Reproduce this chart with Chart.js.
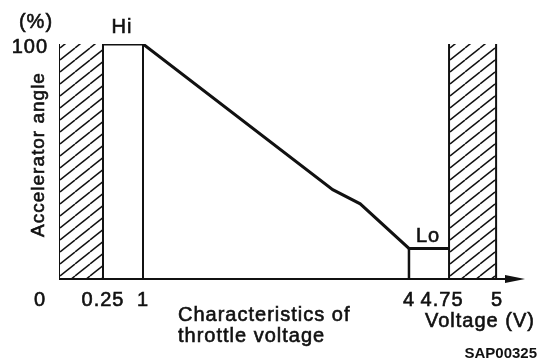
<!DOCTYPE html>
<html>
<head>
<meta charset="utf-8">
<script src="https://cdn.jsdelivr.net/npm/chart.js@4/dist/chart.umd.min.js"></script>
<style>
  html, body { margin: 0; padding: 0; background: #fff; }
  #wrap { width: 546px; height: 361px; }
</style>
</head>
<body>
<div id="wrap"><canvas id="chart" width="546" height="361"></canvas></div>
<script>
// throttle sensor curve: accelerator angle (%) against voltage (V)
const voltage = [0.25, 1, 3.14, 3.45, 4, 4.75];
const angle = [100, 100, 38, 32, 13, 13];

const xTicks = [0, 0.25, 1, 4, 4.75, 5];
const xTickLabels = ["0", "0.25", "1", "4", "4.75", "5"];
const yTicks = [100];

// out-of-range voltage bands (hatched)
const deadBands = [[0, 0.25], [4.75, 5]];
const hiLevel = 100;
const loLevel = 13;

// the voltage axis is drawn schematically, not to scale:
// each break value sits at a fixed fraction of the axis length
const axisVolts = [0, 0.25, 1, 4, 4.75, 5, 5.35];
const axisFrac = [0, 0.0944, 0.1803, 0.751, 0.837, 0.938, 1];

function interp(v, xs, ys) {
    if (v <= xs[0]) return ys[0];
    for (let i = 1; i < xs.length; i++) {
        if (v <= xs[i]) {
            const t = (v - xs[i - 1]) / (xs[i] - xs[i - 1]);
            return ys[i - 1] + t * (ys[i] - ys[i - 1]);
        }
    }
    return ys[ys.length - 1];
}

class SchematicScale extends Chart.LinearScale {
    getPixelForValue(value) {
        return this.getPixelForDecimal(interp(value, axisVolts, axisFrac));
    }
    getValueForPixel(pixel) {
        return interp(this.getDecimalForPixel(pixel), axisFrac, axisVolts);
    }
}
SchematicScale.id = "schematic";
SchematicScale.defaults = Chart.LinearScale.defaults;
Chart.register(SchematicScale);

const INK = "#111";
const FONT = "'Liberation Sans', Arial, sans-serif";

const ctx = document.getElementById("chart").getContext("2d");

function hatchPattern() {
    const tile = document.createElement("canvas");
    tile.width = 15;
    tile.height = 12;
    const g = tile.getContext("2d");
    g.strokeStyle = INK;
    g.lineWidth = 1.5;
    [-12, 0, 12].forEach(o => {
        g.beginPath();
        g.moveTo(0, 12 + o);
        g.lineTo(15, o);
        g.stroke();
    });
    return ctx.createPattern(tile, "repeat");
}
const hatch = hatchPattern();

function line(points, width) {
    return {
        data: points,
        borderColor: INK,
        borderWidth: width,
        pointRadius: 0,
        fill: false,
        tension: 0
    };
}

const datasets = [];

// hatched bands, outlined on both sides but open at the top
deadBands.forEach(([a, b]) => {
    datasets.push({
        data: [{ x: a, y: 0 }, { x: a, y: hiLevel }, { x: b, y: hiLevel }, { x: b, y: 0 }],
        borderColor: INK,
        borderWidth: 2,
        backgroundColor: hatch,
        fill: "origin",
        pointRadius: 0,
        tension: 0,
        segment: {
            borderColor: c => c.p0DataIndex === 1 ? "rgba(0,0,0,0)" : INK
        }
    });
});

// main characteristic
datasets.push(line(voltage.map((v, i) => ({ x: v, y: angle[i] })), 3));
// drops from the Hi and Lo plateaus down to the axis
datasets.push(line([{ x: voltage[1], y: 0 }, { x: voltage[1], y: hiLevel }], 2));
datasets.push(line([{ x: voltage[4], y: 0 }, { x: voltage[4], y: loLevel }], 2.5));

// filled text with a thin outline so it reads a little heavier
function ink(c, text, px, py) {
    c.fillText(text, px, py);
    c.strokeText(text, px, py);
}

const labelsPlugin = {
    id: "labels",
    afterDraw(chart) {
        const c = chart.ctx;
        const x = chart.scales.x;
        const y = chart.scales.y;
        const base = y.getPixelForValue(0);
        c.save();
        c.fillStyle = INK;
        c.strokeStyle = INK;

        // horizontal axis with arrow
        c.lineWidth = 2;
        c.beginPath();
        c.moveTo(x.getPixelForValue(0), base);
        c.lineTo(x.right - 16, base);
        c.stroke();
        c.beginPath();
        c.moveTo(x.right, base);
        c.lineTo(x.right - 20, base - 4);
        c.lineTo(x.right - 20, base + 4);
        c.closePath();
        c.fill();

        c.lineWidth = 0.6;
        c.font = "20px " + FONT;
        c.letterSpacing = "1px";
        c.textBaseline = "alphabetic";

        // x tick labels
        const nudge = { 0: -19, 4.75: -7, 5: 1 };
        c.textAlign = "center";
        xTicks.forEach((v, i) => {
            ink(c, xTickLabels[i], x.getPixelForValue(v) + (nudge[v] || 0), base + 27);
        });

        // y tick and unit
        c.textAlign = "right";
        yTicks.forEach(v => ink(c, String(v), x.left - 11, y.getPixelForValue(v) + 9));
        c.textAlign = "center";
        ink(c, "(%)", 36, 28);

        // plateau names
        ink(c, "Hi", (x.getPixelForValue(voltage[0]) + x.getPixelForValue(voltage[1])) / 2 - 1,
            y.getPixelForValue(hiLevel) - 11);
        ink(c, "Lo", (x.getPixelForValue(voltage[4]) + x.getPixelForValue(voltage[5])) / 2 - 1,
            y.getPixelForValue(loLevel) - 6);

        // axis titles
        c.textAlign = "left";
        ink(c, "Characteristics of", 178, 321);
        ink(c, "throttle voltage", 178, 342);
        ink(c, "Voltage (V)", 425, 327);

        c.save();
        c.font = "19px " + FONT;
        c.translate(44, (y.top + y.bottom) / 2 - 7);
        c.rotate(-Math.PI / 2);
        c.textAlign = "center";
        ink(c, "Accelerator angle", 0, 0);
        c.restore();

        c.font = "bold 15px " + FONT;
        c.letterSpacing = "0px";
        c.textAlign = "right";
        c.fillText("SAP00325", 537, 358);
        c.restore();
    }
};

new Chart(ctx, {
    type: "line",
    data: { datasets },
    options: {
        responsive: false,
        animation: false,
        layout: { padding: { left: 59, top: 44, right: 21, bottom: 82 } },
        plugins: { legend: { display: false }, tooltip: { enabled: false } },
        scales: {
            x: { type: "schematic", min: 0, max: 5.35, display: false },
            y: { type: "linear", min: 0, max: 100, display: false }
        }
    },
    plugins: [labelsPlugin]
});
</script>
</body>
</html>
